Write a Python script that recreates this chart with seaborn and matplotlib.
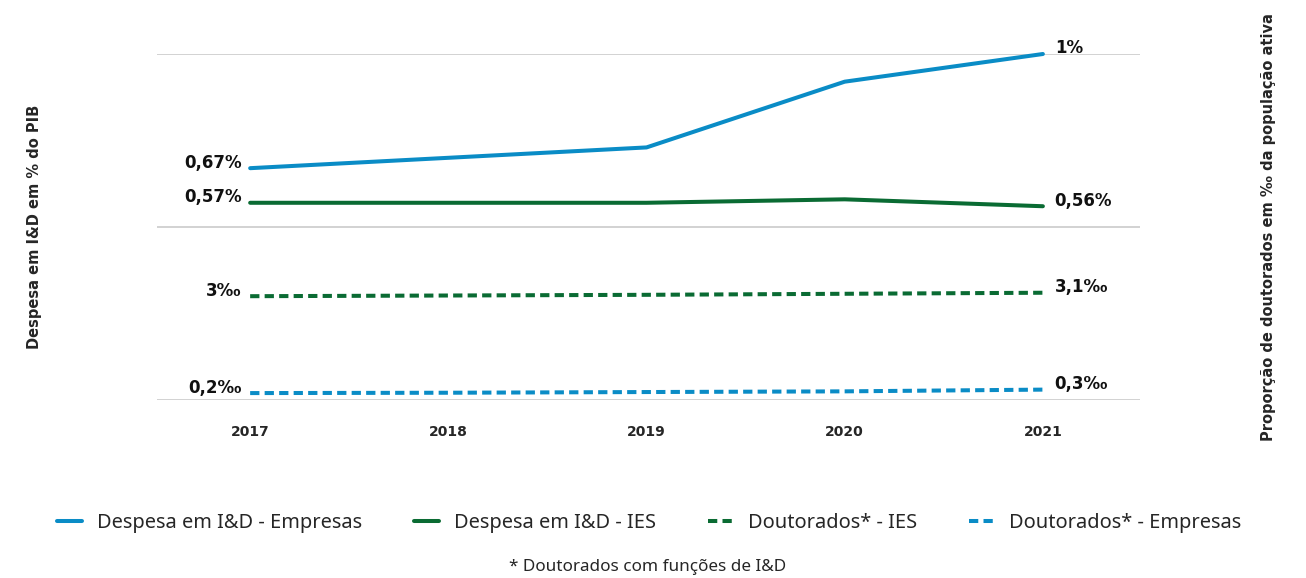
import matplotlib
matplotlib.use("Agg")
import matplotlib.pyplot as plt
import seaborn as sns
from matplotlib.lines import Line2D

# Series values per year
years = ["2017", "2018", "2019", "2020", "2021"]
despesa_empresas = [0.67, 0.70, 0.73, 0.92, 1.00]      # % do PIB
despesa_ies = [0.57, 0.57, 0.57, 0.58, 0.56]           # % do PIB
doutorados_ies = [3.0, 3.02, 3.04, 3.07, 3.1]          # ‰ da população ativa
doutorados_empresas = [0.2, 0.21, 0.23, 0.25, 0.3]     # ‰ da população ativa

series_names = ["Despesa em I&D - Empresas", "Despesa em I&D - IES",
                "Doutorados* - IES", "Doutorados* - Empresas"]
start_labels = ["0,67%", "0,57%", "3‰", "0,2‰"]
end_labels = ["1%", "0,56%", "3,1‰", "0,3‰"]

BLUE = "#0A8CC6"
GREEN = "#0A6B33"
GRID = "#CFCFCF"

sns.set_theme(style="white")
plt.rcParams["font.family"] = ["Noto Sans", "DejaVu Sans"]
BOLD = ["DejaVu Sans"]

fig = plt.figure(figsize=(13.06, 5.78), dpi=100)
ax = fig.add_axes([157 / 1306, 1 - 400 / 578, (1140 - 157) / 1306, (400 - 54) / 578])
ax2 = ax.twinx()

x = list(range(len(years)))
LW = 2.9
DASH = (2.3, 1.3)

sns.lineplot(x=x, y=despesa_empresas, ax=ax, color=BLUE, lw=LW, clip_on=False)
sns.lineplot(x=x, y=despesa_ies, ax=ax, color=GREEN, lw=LW, clip_on=False)
sns.lineplot(x=x, y=doutorados_ies, ax=ax2, color=GREEN, lw=LW, clip_on=False)
sns.lineplot(x=x, y=doutorados_empresas, ax=ax2, color=BLUE, lw=LW, clip_on=False)
for ln in ax2.get_lines():
    ln.set_dashes(DASH)

ax.set_xlim(-0.47, 4.49)
ax.set_ylim(0, 1)
ax2.set_ylim(0, 10)

ax.set_yticks([0, 0.5, 1])
ax.set_yticklabels([])
ax2.set_yticks([])
ax.yaxis.grid(True, color=GRID, lw=1.3)
ax.xaxis.grid(False)
ax.set_axisbelow(True)
for a in (ax, ax2):
    for s in a.spines.values():
        s.set_visible(False)
    a.tick_params(length=0)

ax.set_xticks(x)
ax.set_xticklabels(years, fontfamily=BOLD, fontweight="bold", fontsize=10)
ax.tick_params(axis="x", pad=18)

# Value labels at both ends of each series
axes_for = [ax, ax, ax2, ax2]
series = [despesa_empresas, despesa_ies, doutorados_ies, doutorados_empresas]
for a, vals, sl, el in zip(axes_for, series, start_labels, end_labels):
    a.annotate(sl, (x[0], vals[0]), xytext=(-6, 4), textcoords="offset points",
               ha="right", va="center", fontfamily=BOLD, fontweight="bold",
               fontsize=12, color="#111111", annotation_clip=False)
    a.annotate(el, (x[-1], vals[-1]), xytext=(8.5, 4), textcoords="offset points",
               ha="left", va="center", fontfamily=BOLD, fontweight="bold",
               fontsize=12, color="#111111", annotation_clip=False)

# Axis titles
fig.text(35 / 1306, 1 - 227 / 578, "Despesa em I&D em % do PIB", rotation=90,
         ha="center", va="center", fontfamily=BOLD, fontweight="bold", fontsize=10.5)
fig.text(1268 / 1306, 1 - 227 / 578, "Proporção de doutorados em ‰ da população ativa",
         rotation=90, ha="center", va="center", fontfamily=BOLD, fontweight="bold",
         fontsize=10.5)

# Legend
handles = [
    Line2D([], [], color=BLUE, lw=LW),
    Line2D([], [], color=GREEN, lw=LW),
    Line2D([], [], color=GREEN, lw=LW, dashes=DASH),
    Line2D([], [], color=BLUE, lw=LW, dashes=DASH),
]
fig.legend(handles, series_names, loc="center", bbox_to_anchor=(0.497, 1 - 523 / 578),
           ncol=4, frameon=False, fontsize=14.4, handlelength=1.25, handletextpad=0.75,
           columnspacing=2.6)

fig.text(0.496, 1 - 567 / 578, "* Doutorados com funções de I&D", ha="center",
         va="center", fontsize=12.3)

fig.savefig("out.png", dpi=100, facecolor="white")
